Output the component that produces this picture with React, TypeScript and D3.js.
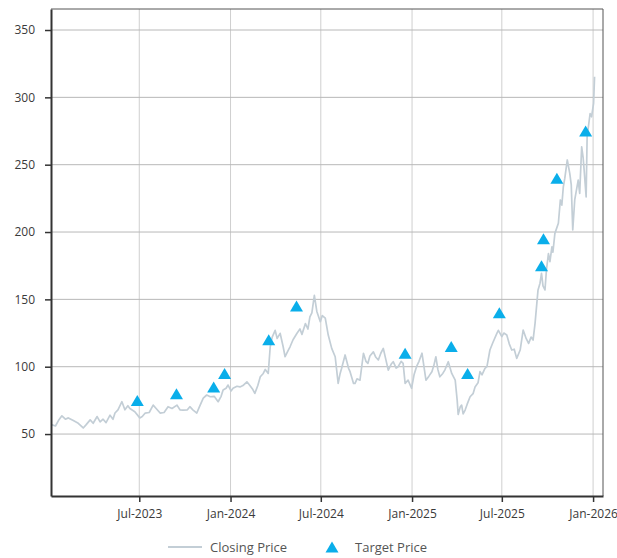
import React, { useEffect, useRef } from "react";
import * as d3 from "d3";

const closeDates = [
  "2023-01-05", "2023-01-13", "2023-01-19", "2023-01-26", "2023-02-02", "2023-02-08",
  "2023-02-18", "2023-02-28", "2023-03-10", "2023-03-16", "2023-03-24", "2023-03-30",
  "2023-04-07", "2023-04-13", "2023-04-19", "2023-04-25", "2023-05-03", "2023-05-09",
  "2023-05-13", "2023-05-19", "2023-05-27", "2023-06-02", "2023-06-08", "2023-06-12",
  "2023-06-22", "2023-07-02", "2023-07-07", "2023-07-13", "2023-07-21", "2023-07-29",
  "2023-08-04", "2023-08-12", "2023-08-20", "2023-08-28", "2023-09-05", "2023-09-15",
  "2023-09-21", "2023-09-27", "2023-10-06", "2023-10-11", "2023-10-17", "2023-10-25",
  "2023-10-30", "2023-11-07", "2023-11-14", "2023-11-21", "2023-11-29", "2023-12-07",
  "2023-12-13", "2023-12-17", "2023-12-23", "2023-12-27", "2024-01-02", "2024-01-06",
  "2024-01-14", "2024-01-20", "2024-01-26", "2024-02-03", "2024-02-09", "2024-02-15",
  "2024-02-19", "2024-02-25", "2024-03-01", "2024-03-07", "2024-03-11", "2024-03-17",
  "2024-03-21", "2024-03-25", "2024-03-31", "2024-04-04", "2024-04-10", "2024-04-16",
  "2024-04-20", "2024-04-26", "2024-04-30", "2024-05-06", "2024-05-14", "2024-05-20",
  "2024-05-24", "2024-05-31", "2024-06-05", "2024-06-09", "2024-06-13", "2024-06-18",
  "2024-06-23", "2024-06-30", "2024-07-04", "2024-07-10", "2024-07-16", "2024-07-23",
  "2024-07-30", "2024-08-05", "2024-08-09", "2024-08-12", "2024-08-19", "2024-08-26",
  "2024-08-29", "2024-09-05", "2024-09-08", "2024-09-12", "2024-09-18", "2024-09-25",
  "2024-09-30", "2024-10-04", "2024-10-08", "2024-10-15", "2024-10-20", "2024-10-25",
  "2024-10-30", "2024-11-04", "2024-11-10", "2024-11-14", "2024-11-20", "2024-11-24",
  "2024-11-30", "2024-12-04", "2024-12-10", "2024-12-14", "2024-12-18", "2024-12-24",
  "2024-12-31", "2025-01-05", "2025-01-10", "2025-01-15", "2025-01-21", "2025-01-25",
  "2025-01-29", "2025-02-04", "2025-02-10", "2025-02-14", "2025-02-18", "2025-02-22",
  "2025-02-26", "2025-03-04", "2025-03-08", "2025-03-15", "2025-03-18", "2025-03-22",
  "2025-03-29", "2025-04-02", "2025-04-04", "2025-04-08", "2025-04-11", "2025-04-14",
  "2025-04-18", "2025-04-22", "2025-04-28", "2025-05-04", "2025-05-08", "2025-05-14",
  "2025-05-18", "2025-05-22", "2025-05-28", "2025-06-01", "2025-06-07", "2025-06-13",
  "2025-06-21", "2025-06-24", "2025-07-01", "2025-07-05", "2025-07-11", "2025-07-16",
  "2025-07-21", "2025-07-26", "2025-07-31", "2025-08-07", "2025-08-13", "2025-08-19",
  "2025-08-24", "2025-08-29", "2025-09-02", "2025-09-06", "2025-09-12", "2025-09-16",
  "2025-09-19", "2025-09-22", "2025-09-26", "2025-09-29", "2025-10-03", "2025-10-06",
  "2025-10-10", "2025-10-12", "2025-10-16", "2025-10-23", "2025-10-27", "2025-10-30",
  "2025-11-02", "2025-11-05", "2025-11-10", "2025-11-15", "2025-11-18", "2025-11-21",
  "2025-11-25", "2025-12-02", "2025-12-05", "2025-12-09", "2025-12-12", "2025-12-14",
  "2025-12-18", "2025-12-20", "2025-12-26", "2025-12-29", "2026-01-02", "2026-01-04",
];

const closeValues = [
  57, 56, 60, 63.5, 61, 62,
  60, 58, 54.5, 57, 60.5, 58,
  63, 59, 61, 58.5, 64, 61,
  65.6, 68, 74, 68, 71, 69,
  66.6, 62, 63, 65.6, 66, 71.5,
  69, 65.6, 66, 70.3, 69, 71.5,
  68, 67.8, 68, 70.3, 68, 65.6,
  70, 76.7, 79, 77.7, 78, 74,
  78, 82.7, 84, 86.4, 82, 84,
  85.5, 85, 86, 88.8, 86, 83,
  80.2, 86, 92.5, 95, 98, 95,
  114.8, 122, 127, 121, 124.8, 115,
  107.4, 112, 114.8, 120, 124.8, 128,
  124, 132, 128, 137, 140, 153,
  141, 133.4, 138, 136, 123.5, 113.6,
  107.4, 87.6, 95, 98.8, 108.7, 98.8,
  96.3, 87.6, 87.6, 91, 90, 110,
  104, 102.5, 108, 111, 107, 105,
  110, 113.6, 104, 97.5, 102, 103.7,
  99, 100, 104, 102.5, 87.6, 90,
  84, 94, 100, 104, 110, 100,
  90, 93, 96.3, 101, 107.4, 98,
  92.5, 95, 97.5, 103.7, 100, 95,
  90, 75, 64.5, 70, 71.5, 65,
  67.8, 72, 77.7, 80, 85, 88,
  96.3, 94, 98.8, 100, 112.4, 118,
  124.8, 127, 122.3, 125, 123.5, 117,
  112.4, 113, 106.2, 112.4, 127.2, 121,
  117.3, 122, 119.8, 132.2, 157, 162,
  169.3, 160, 157, 172, 184, 178,
  189, 185, 199, 206.5, 223.8, 220,
  233.6, 240, 253.5, 243.6, 235, 201.5,
  223.8, 238.6, 228.7, 263.3, 255, 246,
  226, 270.9, 288, 285.6, 295.5, 315.3,
];

const targetDates = [
  "2023-06-27", "2023-09-14", "2023-11-28", "2023-12-20", "2024-03-18", "2024-05-13",
  "2024-12-18", "2025-03-21", "2025-04-23", "2025-06-26", "2025-09-19", "2025-09-23",
  "2025-10-20", "2025-12-17",
];
const targetValues = [75, 80, 85, 95, 120, 145, 110, 115, 95, 140, 175, 195, 240, 275];

const yTicks = [50, 100, 150, 200, 250, 300, 350];
const xTicks = ["2023-07-01", "2024-01-01", "2024-07-01", "2025-01-01", "2025-07-01", "2026-01-01"];

const W = 617;
const H = 558;
const FONT = "'Open Sans', 'Noto Sans', sans-serif";
const LINE_COLOR = "#c3ced6";
const TRI_COLOR = "#0aaeea";

const parse = d3.timeParse("%Y-%m-%d");

// triangle centred on its bounding box
const triPath = (w: number, h: number) =>
  `M0,${-h / 2}L${w / 2},${h / 2}L${-w / 2},${h / 2}Z`;

export default function App() {
  const svgRef = useRef<SVGSVGElement>(null);

  useEffect(() => {
    if (!svgRef.current) return;
    const svg = d3.select(svgRef.current);
    svg.selectAll("*").remove();

    const margin = { top: 9, right: 14, bottom: 62, left: 51 };
    const x0 = margin.left;
    const x1 = W - margin.right;
    const y0 = H - margin.bottom;
    const y1 = margin.top;

    const x = d3
      .scaleTime()
      .domain([parse("2023-01-04")!, parse("2026-01-21")!])
      .range([x0, x1]);
    const y = d3.scaleLinear().domain([4, 365.6]).range([y0, y1]);

    const closing = closeDates.map((d, i) => ({ date: parse(d)!, value: closeValues[i] }));
    const targets = targetDates.map((d, i) => ({ date: parse(d)!, value: targetValues[i] }));
    const xTickDates = xTicks.map((d) => parse(d)!);

    // grid
    svg
      .append("g")
      .selectAll("line")
      .data(xTickDates)
      .join("line")
      .attr("x1", (d) => x(d))
      .attr("x2", (d) => x(d))
      .attr("y1", y1)
      .attr("y2", y0)
      .attr("stroke", "#cfcfcf")
      .attr("stroke-width", 1);

    svg
      .append("g")
      .selectAll("line")
      .data(yTicks)
      .join("line")
      .attr("x1", x0)
      .attr("x2", x1)
      .attr("y1", (d) => y(d))
      .attr("y2", (d) => y(d))
      .attr("stroke", "#b8b8b8")
      .attr("stroke-width", 1);

    // top / right frame
    svg
      .append("path")
      .attr("d", `M${x0},${y1}H${x1}V${y0}`)
      .attr("fill", "none")
      .attr("stroke", "#555")
      .attr("stroke-width", 1);

    // closing price
    const line = d3
      .line<{ date: Date; value: number }>()
      .x((d) => x(d.date))
      .y((d) => y(d.value));

    svg
      .append("path")
      .datum(closing)
      .attr("fill", "none")
      .attr("stroke", LINE_COLOR)
      .attr("stroke-width", 1.7)
      .attr("stroke-linejoin", "round")
      .attr("d", line);

    // target price
    svg
      .append("g")
      .selectAll("path")
      .data(targets)
      .join("path")
      .attr("transform", (d) => `translate(${x(d.date)},${y(d.value)})`)
      .attr("d", triPath(13, 11))
      .attr("fill", TRI_COLOR);

    // axes
    const xAxis = svg
      .append("g")
      .attr("transform", `translate(0,${y0})`)
      .call(
        d3
          .axisBottom(x)
          .tickValues(xTickDates)
          .tickFormat((d) => d3.timeFormat("%b-%Y")(d as Date))
          .tickSizeInner(6)
          .tickSizeOuter(0)
          .tickPadding(7)
      );
    xAxis.select(".domain").attr("stroke", "#333").attr("stroke-width", 2);

    const yAxis = svg
      .append("g")
      .attr("transform", `translate(${x0},0)`)
      .call(
        d3.axisLeft(y).tickValues(yTicks).tickSizeInner(6).tickSizeOuter(0).tickPadding(10)
      );
    yAxis.select(".domain").attr("stroke", "#333").attr("stroke-width", 2);

    svg
      .selectAll(".tick line")
      .attr("stroke", "#333")
      .attr("stroke-width", 1.5);
    svg
      .selectAll(".tick text")
      .attr("fill", "#3a3a3a")
      .style("font-family", FONT)
      .style("font-size", "12px");

    // legend
    const lg = svg.append("g").style("font-family", FONT).style("font-size", "13px");
    lg.append("line")
      .attr("x1", 168)
      .attr("x2", 202)
      .attr("y1", 547)
      .attr("y2", 547)
      .attr("stroke", LINE_COLOR)
      .attr("stroke-width", 2);
    lg.append("text").attr("x", 210).attr("y", 552).attr("fill", "#555").text("Closing Price");
    lg.append("path")
      .attr("transform", "translate(332,547)")
      .attr("d", triPath(13, 11))
      .attr("fill", TRI_COLOR);
    lg.append("text").attr("x", 355).attr("y", 552).attr("fill", "#555").text("Target Price");
  }, []);

  return (
    <svg
      ref={svgRef}
      width={W}
      height={H}
      style={{ display: "block", position: "absolute", left: 0, top: 0, background: "#fff" }}
    />
  );
}
